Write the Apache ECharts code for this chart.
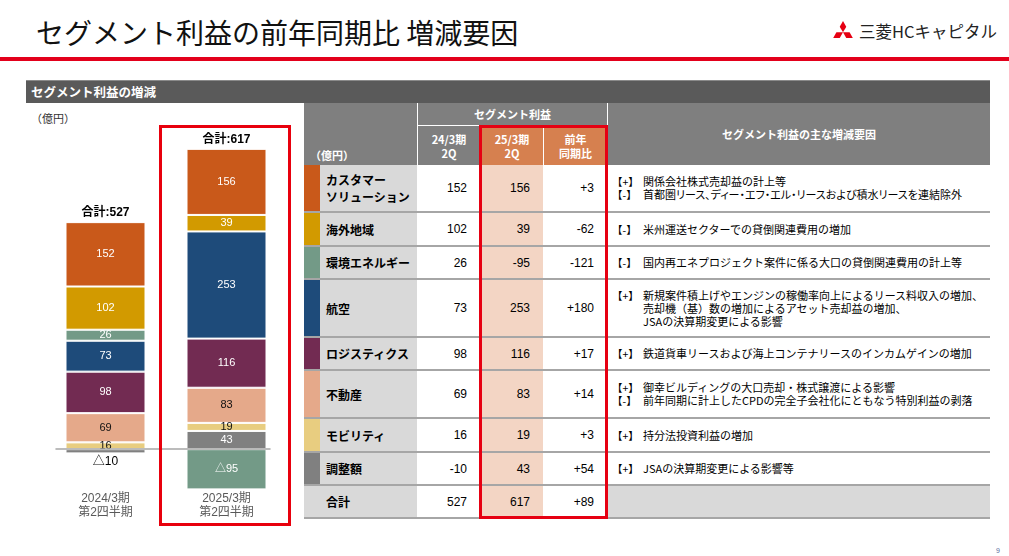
<!DOCTYPE html>
<html><head><meta charset="utf-8">
<script src="https://cdn.jsdelivr.net/npm/echarts@6/dist/echarts.min.js"></script>
<style>
html,body{margin:0;padding:0;background:#fff;}
body{width:1009px;height:556px;position:relative;overflow:hidden;font-family:"Noto Sans CJK JP","Noto Sans",sans-serif;color:#000;}
.abs{position:absolute;box-sizing:border-box;}
.num{font-family:"Liberation Sans",Arial,sans-serif;font-size:12px;display:flex;align-items:center;justify-content:flex-end;padding-right:13px;}
.hd{color:#fff;font-weight:bold;font-size:11px;line-height:14px;display:flex;align-items:center;justify-content:center;text-align:center;}
.nm{background:#d9d9d9;display:flex;align-items:center;padding-left:6px;font-weight:bold;font-size:12px;line-height:17px;}
.ds{display:flex;flex-direction:column;justify-content:center;padding-left:5px;font-size:11px;line-height:13px;}
.ds .it{display:flex;}
.ds .tg{width:31px;flex-shrink:0;white-space:nowrap;font-size:10.5px;}
.ds .tx{white-space:pre;display:inline-block;}
.sep{border-bottom:2px solid #a6a6a6;}
</style></head><body>

<div class="abs" style="left:36px;top:12px;font-size:28px;line-height:40px;color:#111;white-space:nowrap;">セグメント利益の前年同期比 増減要因</div>
<svg class="abs" style="left:833px;top:21px;" width="20" height="17" viewBox="1.4 0 13.2 11.4">
  <g fill="#E60012">
    <polygon points="8,7.6 5.8,3.8 8,0 10.2,3.8"/>
    <polygon points="8,7.6 5.8,3.8 8,0 10.2,3.8" transform="rotate(120 8 7.6)"/>
    <polygon points="8,7.6 5.8,3.8 8,0 10.2,3.8" transform="rotate(240 8 7.6)"/>
  </g>
</svg>
<div class="abs" style="left:859px;top:18px;font-size:16.5px;line-height:26px;color:#222;white-space:nowrap;">三菱HCキャピタル</div>
<div class="abs" style="left:0;top:57px;width:1009px;height:4px;background:#E3001B;"></div>
<div class="abs" style="left:26px;top:80px;width:964px;height:23px;background:#5a5a5a;border-top:1px solid #8a8a8a;color:#fff;font-weight:bold;font-size:12.5px;line-height:21px;padding-left:5px;">セグメント利益の増減</div>
<div class="abs" style="left:31px;top:111px;font-size:11px;line-height:14px;color:#333;">（億円）</div>
<div id="chart" class="abs" style="left:26px;top:103px;width:274px;height:425px;"></div>
<div class="abs" style="left:159px;top:125px;width:132px;height:401px;border:3px solid #E8000D;"></div>
<div id="tbl"></div>
<div class="abs" style="left:996px;top:546px;font-size:7px;line-height:9px;color:#5a6ea0;font-family:'Liberation Sans',sans-serif;">9</div>

<script>
// ---- data ----
const segments = ['カスタマー\nソリューション','海外地域','環境エネルギー','航空','ロジスティクス','不動産','モビリティ','調整額'];
const prevValues = [152, 102, 26, 73, 98, 69, 16, -10];
const currValues = [156, 39, -95, 253, 116, 83, 19, 43];
const yoyValues = [3, -62, -121, 180, 17, 14, 3, 54];
const totals = [527, 617];
const totalYoy = 89;
const periods = ['2024/3期\n第2四半期', '2025/3期\n第2四半期'];
const tableHead = ['24/3期\n2Q', '25/3期\n2Q', '前年\n同期比'];
const factors = [
  [['+','関係会社株式売却益の計上等'], ['-','首都圏リース、ディー・エフ・エル・リースおよび積水リースを連結除外']],
  [['-','米州運送セクターでの貸倒関連費用の増加']],
  [['-','国内再エネプロジェクト案件に係る大口の貸倒関連費用の計上等']],
  [['+','新規案件積上げやエンジンの稼働率向上によるリース料収入の増加、\n売却機（基）数の増加によるアセット売却益の増加、\nJSAの決算期変更による影響']],
  [['+','鉄道貨車リースおよび海上コンテナリースのインカムゲインの増加']],
  [['+','御幸ビルディングの大口売却・株式譲渡による影響'], ['-','前年同期に計上したCPDの完全子会社化にともなう特別利益の剥落']],
  [['+','持分法投資利益の増加']],
  [['+','JSAの決算期変更による影響等']]
];

// ---- styles ----
const segColors = ['#C9591A', '#D29A00', '#739A87', '#1E4B7A', '#722B52', '#E5A98A', '#E8CD80', '#808080'];
const darkLabel = [false, false, false, false, false, true, true, false];

// ---- chart ----
const fmtDelta = v => v < 0 ? '△' + Math.abs(v) : String(v);
const chart = echarts.init(document.getElementById('chart'));
const series = [];
for (let k = segments.length - 1; k >= 0; k--) {
  series.push({
    name: segments[k], type: 'bar', stack: 'seg', barWidth: 80,
    xAxisIndex: 0, yAxisIndex: 0,
    itemStyle: { color: segColors[k], borderColor: '#fff', borderWidth: 1 },
    label: { show: true, position: 'inside', color: darkLabel[k] ? '#111' : '#fff', fontSize: 11,
             formatter: p => fmtDelta(p.value) },
    data: [prevValues[k], currValues[k]].map(v => (v < 0 && Math.abs(v) < 20)
      ? { value: v, label: { position: 'bottom', distance: 2, color: '#000', fontSize: 12 } } : v)
  });
}
series.push({
  name: '合計', type: 'bar', stack: 'seg', barWidth: 80, silent: true,
  itemStyle: { color: 'rgba(0,0,0,0)' },
  label: { show: true, position: 'top', distance: 3, fontWeight: 'bold', fontSize: 12, color: '#000',
           formatter: p => '合計:' + totals[p.dataIndex] },
  data: totals.map(() => 0)
});
chart.setOption({
  animation: false,
  textStyle: { fontFamily: '"Liberation Sans", "Noto Sans CJK JP", sans-serif' },
  grid: [
    { left: 19, top: 28.5, width: 242, height: 360 },
    { left: 30, top: 28.5, width: 214, height: 360 }
  ],
  xAxis: [
    { gridIndex: 0, type: 'category', data: periods, position: 'bottom',
      axisLine: { show: false, onZero: false }, axisTick: { show: false },
      axisLabel: { color: '#595959', fontSize: 12, lineHeight: 14, margin: 0 } },
    { gridIndex: 1, type: 'category', data: periods, z: 10,
      axisLine: { show: true, onZero: true, lineStyle: { color: '#a6a6a6', width: 1.5 } },
      axisTick: { show: false }, axisLabel: { show: false } }
  ],
  yAxis: [
    { gridIndex: 0, type: 'value', min: -100, max: 750, show: false },
    { gridIndex: 1, type: 'value', min: -100, max: 750, show: false }
  ],
  series: series
});

// ---- table ----
const T = document.getElementById('tbl');
function box(x, y, w, h, cls, css, html) {
  const d = document.createElement('div');
  d.className = 'abs ' + (cls || '');
  d.style.cssText = `left:${x}px;top:${y}px;width:${w}px;height:${h}px;` + (css || '');
  if (html != null) d.innerHTML = html;
  T.appendChild(d);
  return d;
}
const esc = s => s.replace(/&/g, '&amp;').replace(/</g, '&lt;');
const br = s => esc(s).replace(/\n/g, '<br>');
const signed = v => (v > 0 ? '+' : '') + v;
const X = [304, 320, 417, 480, 543, 607, 990];
const GREY = '#7f7f7f', ORANGE = '#D6804F', PEACH = '#F3D5C4';

// header
box(X[0], 103, X[2] - X[0], 62, 'hd', `background:${GREY};align-items:flex-end;justify-content:flex-start;padding:0 0 3px 6px;`, '（億円）');
box(X[2], 103, X[5] - X[2], 22, 'hd', `background:${GREY};border-left:1px solid #fff;`, 'セグメント利益');
box(X[2], 126, X[3] - X[2], 39, 'hd', `background:${GREY};border-left:1px solid #fff;`, br(tableHead[0]));
box(X[3], 126, X[4] - X[3], 39, 'hd', `background:${ORANGE};border-left:1px solid #fff;`, br(tableHead[1]));
box(X[4], 126, X[5] - X[4], 39, 'hd', `background:${ORANGE};border-left:1px solid #fff;`, br(tableHead[2]));
box(X[5], 103, X[6] - X[5], 62, 'hd', `background:${GREY};border-left:1px solid #fff;`, 'セグメント利益の主な増減要因');

// body
const rowH = [48, 34, 33, 58, 33, 48, 34, 33];
let y = 165;
segments.forEach((name, i) => {
  const h = rowH[i];
  box(X[0], y, X[1] - X[0], h, 'sep', `background:${segColors[i]};`);
  box(X[1], y, X[2] - X[1], h, 'nm sep', '', br(name));
  box(X[2], y, X[3] - X[2], h, 'num sep', 'background:#fff;', String(prevValues[i]));
  box(X[3], y, X[4] - X[3], h, 'num sep', `background:${PEACH};`, String(currValues[i]));
  box(X[4], y, X[5] - X[4], h, 'num sep', 'background:#fff;', signed(yoyValues[i]));
  const html = factors[i].map(([s, t]) =>
    `<div class="it"><span class="tg">【${s === '+' ? '+' : '-'}】</span><span class="tx">${esc(t)}</span></div>`).join('');
  box(X[5], y, X[6] - X[5], h, 'ds sep', 'background:#fff;', html);
  y += h;
});
// total row
const th = 33;
box(X[0], y, X[2] - X[0], th, 'nm sep', 'padding-left:22px;', '合計');
box(X[2], y, X[3] - X[2], th, 'num sep', 'background:#fff;', String(totals[0]));
box(X[3], y, X[4] - X[3], th, 'num sep', `background:${PEACH};`, String(totals[1]));
box(X[4], y, X[5] - X[4], th, 'num sep', 'background:#fff;', signed(totalYoy));
box(X[5], y, X[6] - X[5], th, 'sep', 'background:#d9d9d9;');
// highlight frame
box(479, 125, 129, 394, '', 'border:3px solid #E60012;');

// keep long description lines inside their column
const maxW = X[6] - X[5] - 5 - 31 - 4;
document.querySelectorAll('.ds .tx').forEach(el => {
  if (el.getBoundingClientRect().width > maxW) el.style.fontFeatureSettings = '"palt"';
  let fs = 11;
  while (el.getBoundingClientRect().width > maxW && fs > 9) { fs -= 0.25; el.style.fontSize = fs + 'px'; }
});
</script>
</body></html>
